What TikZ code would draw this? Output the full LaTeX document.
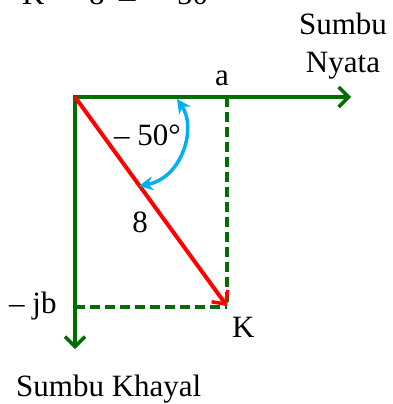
\documentclass[tikz,border=0pt]{standalone}
\usepackage{fontspec}
\setmainfont{Liberation Serif}
\newfontfamily\symfont{DejaVu Serif}
\usetikzlibrary{arrows.meta}
\definecolor{axgreen}{RGB}{0,110,0}
\definecolor{vecred}{RGB}{255,0,0}
\definecolor{arcblue}{RGB}{0,176,240}
\tikzset{
  axis/.style={draw=axgreen, line width=3.8pt, -{Straight Barb[length=10pt,width=20pt,line width=3.5pt]}},
  proj/.style={draw=axgreen, line width=3.5pt, dash pattern=on 10pt off 5pt},
  vec/.style={draw=vecred, line width=4pt, -{Straight Barb[length=10pt,width=20pt,line width=3.5pt]}},
  angarc/.style={draw=arcblue, line width=3.5pt, {Stealth[length=14pt,width=14pt]}-{Stealth[length=14pt,width=14pt]}},
  lbl/.style={inner sep=0pt, font=\fontsize{31}{37}\selectfont},
}
\begin{document}
\begin{tikzpicture}[x=1pt,y=-1pt]
\useasboundingbox (0,0) rectangle (392,404);
\clip (0,0) rectangle (392,404);
\fill[white] (0,0) rectangle (392,404);
% points
\coordinate (O) at (75,97);
\coordinate (X) at (351,97);
\coordinate (Y) at (75,349);
\coordinate (K) at (227,306);
\coordinate (A) at (227,97);
\coordinate (B) at (75,307);
\coordinate (arcT) at (177,99);
\coordinate (arcB) at (139,186);
% projections
\draw[proj] (A) -- (227,307);
\draw[proj] (B) -- (227,307);
% axes
\draw[axis] ([xshift=-1.9pt]O) -- (X);
\draw[axis] ([yshift=-1.9pt]O) -- (Y);
% vector
\draw[vec] (O) -- (K);
% angle arc
\draw[angarc] (arcT) .. controls (197,128) and (182,178) .. (arcB);
% labels
\node[lbl, anchor=base west] (eq) at (22,5) {\makebox[67pt][l]{K \ =}\makebox[25pt][l]{8}\makebox[63pt][l]{{\symfont ∠}\hfill–\hspace{6pt}}50°};
\node[lbl, anchor=base] (sumbu) at (343,35) {Sumbu};
\node[lbl, anchor=base] (nyata) at (343,72) {Nyata};
\node[lbl, anchor=base] (la) at (222,85) {a};
\node[lbl, anchor=base west] (ang) at (114,145) {– 50°};
\node[lbl, anchor=base] (l8) at (140,232) {8};
\node[lbl, anchor=base west] (ljb) at (9,313) {– jb};
\node[lbl, anchor=base west] (lK) at (232,337) {K};
\node[lbl, anchor=base west] (khayal) at (16,396) {Sumbu Khayal};
\end{tikzpicture}
\end{document}
